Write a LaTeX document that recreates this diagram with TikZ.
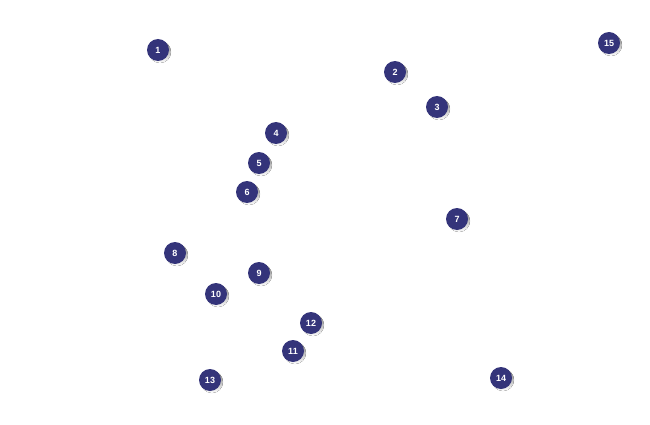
\documentclass[tikz,border=0pt]{standalone}
\usepackage{fontspec}
\setmainfont{Liberation Sans}
\definecolor{ball}{HTML}{34347A}
\definecolor{shade}{HTML}{A0A0A8}
\begin{document}
\begin{tikzpicture}[x=1pt,y=-1pt,
  ball/.style={circle,fill=ball,minimum size=22pt,inner sep=0pt,text=white,font=\bfseries\fontsize{9}{9}\selectfont}]
\useasboundingbox (0,0) rectangle (650,425);
\foreach \n/\x/\y in {1/158/50,2/395/72,3/437/107,4/276/133,5/259/163,6/247/192,7/457/219,8/175/253,9/259/273,10/216/294,11/293/351,12/311/323,13/210/380,14/501/378,15/609/43}{
  \fill[shade] (\x+2,\y+2) circle (11);
  \node[ball] (n\n) at (\x,\y) {\n};
}
\end{tikzpicture}
\end{document}
